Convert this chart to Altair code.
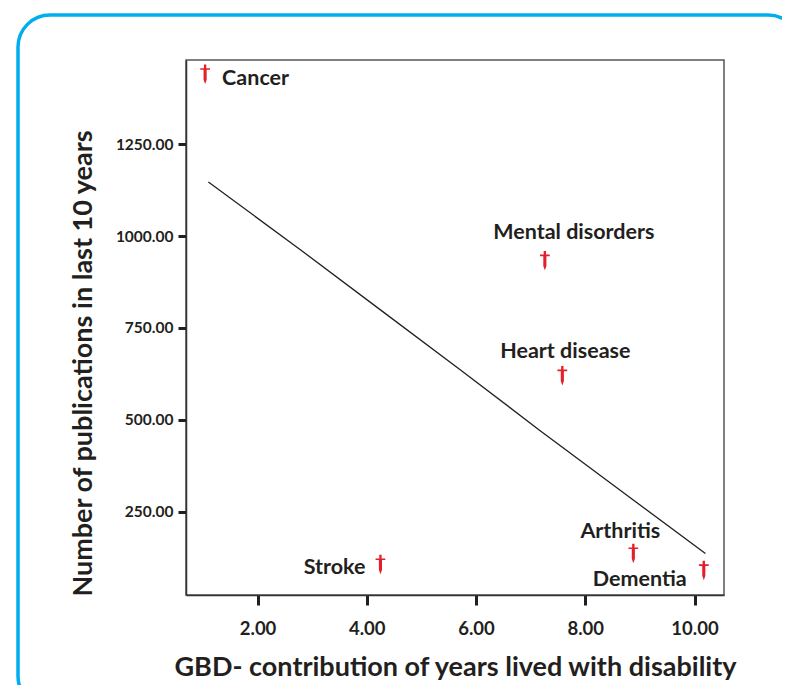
import altair as alt
import pandas as pd

# ---- data ----
diseases = ["Cancer", "Mental disorders", "Heart disease", "Arthritis", "Dementia", "Stroke"]
gbd_yld = [1.04, 7.26, 7.58, 8.88, 10.17, 4.25]
publications = [1440, 933, 620, 136, 90, 106]

fit_x = [1.10, 2.79, 4.25, 5.71, 7.15, 8.83, 10.20]
fit_y = [1147, 962, 799, 636, 473, 287, 136]

x_ticks = [2, 4, 6, 8, 10]
y_ticks = [250, 500, 750, 1000, 1250]

pts = pd.DataFrame({"disease": diseases, "x": gbd_yld, "y": publications})
fit = pd.DataFrame({"x": fit_x, "y": fit_y})

INK = "#231f20"
RED = "#e3202a"
FONT = "Lato"

xs = alt.Scale(domain=[0.69, 10.54], nice=False, zero=False)
ys = alt.Scale(domain=[23, 1479], nice=False, zero=False)

X = alt.X("x:Q", scale=xs,
          axis=alt.Axis(values=x_ticks, format=".2f", grid=False,
                        title="GBD- contribution of years lived with disability",
                        tickSize=10, tickWidth=3, tickColor=INK,
                        labelFontSize=18.5, labelPadding=14, labelColor=INK,
                        labelFont=FONT, labelFontWeight="bold",
                        titleFont=FONT, titleFontSize=27, titleFontWeight="bold",
                        titleColor=INK, titlePadding=17,
                        domainColor="#333333", domainWidth=1.5))
Y = alt.Y("y:Q", scale=ys,
          axis=alt.Axis(values=y_ticks, format=".2f", grid=False,
                        title="Number of publications in last 10 years",
                        tickSize=8, tickWidth=3, tickColor=INK,
                        labelFontSize=15.5, labelPadding=5, labelColor=INK,
                        labelFont=FONT, labelFontWeight="bold",
                        titleFont=FONT, titleFontSize=27, titleFontWeight="bold",
                        titleColor=INK, titlePadding=18, titleY=303,
                        domainColor="#333333", domainWidth=1.5))

frame = alt.Chart(alt.Data(values=[{"a": 1}])).mark_rect(
    cornerRadius=32, fillOpacity=0, stroke="#00aeef", strokeWidth=3.5
).encode(x=alt.value(-168), x2=alt.value(614), y=alt.value(-45), y2=alt.value(648))

line = alt.Chart(fit).mark_line(color=INK, strokeWidth=1.3).encode(x=X, y=Y)

dagger = ("M-0.12,-1 L0.12,-1 L0.12,-0.62 L0.5,-0.62 L0.5,-0.46 L0.16,-0.46 "
          "L0.16,0.55 L0,1 L-0.16,0.55 L-0.16,-0.46 L-0.5,-0.46 L-0.5,-0.62 "
          "L-0.12,-0.62 Z")
points = alt.Chart(pts).mark_point(
    shape=dagger, size=380, filled=True, color=RED, opacity=1, strokeWidth=0
).encode(x=X, y=Y)

label_style = [
    ("Cancer", "left", 17, 11),
    ("Mental disorders", "center", 29, -22),
    ("Heart disease", "center", 3, -18),
    ("Arthritis", "center", -13, -15),
    ("Dementia", "center", -64, 16),
    ("Stroke", "right", -15, 9),
]
labels = []
for name, al, dx, dy in label_style:
    labels.append(
        alt.Chart(pts).transform_filter(alt.datum.disease == name).mark_text(
            align=al, baseline="alphabetic", dx=dx, dy=dy,
            font=FONT, fontSize=21.5, fontWeight="bold", color=INK
        ).encode(x=X, y=Y, text="disease:N")
    )

chart = alt.layer(frame, line, points, *labels).properties(
    width=538, height=535,
    autosize=alt.AutoSizeParams(type="none"),
    padding={"left": 178, "top": 52, "right": 58, "bottom": 90},
    background="white",
).configure_view(stroke="#555555", strokeWidth=1.5)

chart.save("out.html", embed_options={"renderer": "svg", "actions": False})
